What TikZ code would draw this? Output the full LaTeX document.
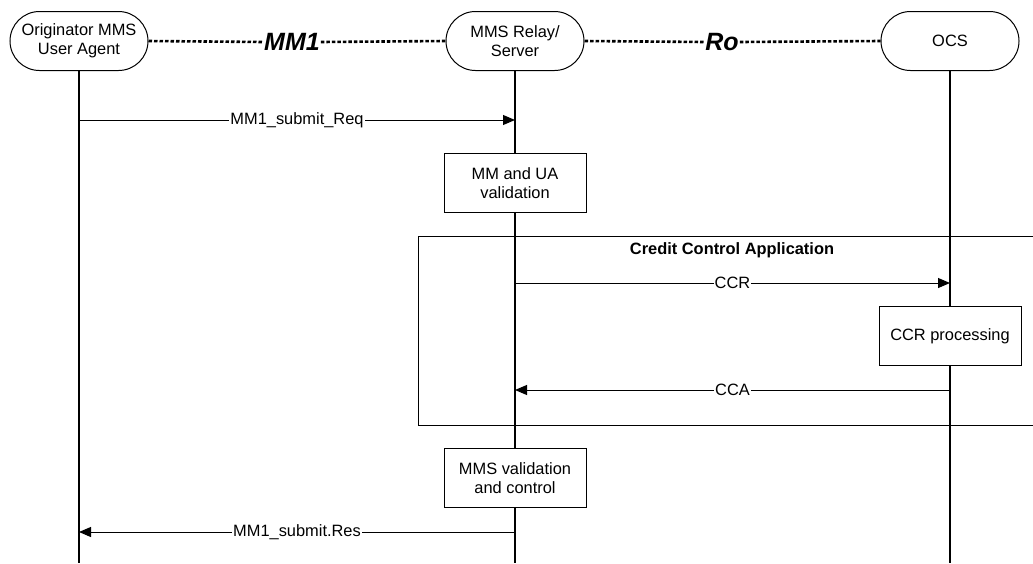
\documentclass[tikz,border=0pt]{standalone}
\usepackage{fontspec}
\setmainfont{Liberation Sans}
\usepackage{tikz}
\usetikzlibrary{shapes.misc, arrows.meta, positioning, calc}
\definecolor{ink}{HTML}{000000}

\tikzset{
    entity/.style={draw=ink, rounded rectangle, line width=1pt,
        minimum width=142pt, minimum height=59pt, inner sep=2pt,
        align=center, font=\fontsize{16.4}{19}\selectfont},
    procbox/.style={draw=ink, fill=white, line width=1pt,
        minimum width=142pt, minimum height=59pt, inner sep=2pt,
        align=center, font=\fontsize{16.4}{19}\selectfont},
    iface/.style={draw=ink, line width=2.6pt, dash pattern=on 3.5pt off 2pt},
    ifacelbl/.style={inner sep=1pt, font=\fontsize{25}{28}\selectfont\bfseries\itshape},
    lifeline/.style={draw=ink, line width=1.3pt},
    msg/.style={draw=ink, line width=1pt, -{Triangle[length=12pt,width=10pt]}},
    lbl/.style={fill=white, inner sep=1pt, font=\fontsize{16.4}{19}\selectfont},
}

\begin{document}
\begin{tikzpicture}[x=1pt, y=-1pt]
        \useasboundingbox (0,0) rectangle (1033,563);

        % entities
        \node[entity] (ua) at (79,41) {Originator MMS\\User Agent};
        \node[entity] (relay) at (515,41) {MMS Relay/\\Server};
        \node[entity] (ocs) at (950,41) {OCS};

        % interfaces
        \node[ifacelbl] (mm1) at (292,42) {MM1};
        \node[ifacelbl] (ro) at (722,42) {Ro};
        \draw[iface] (ua.east) -- (mm1.west);
        \draw[iface] (mm1.east) -- (relay.west);
        \draw[iface] (relay.east) -- (ro.west);
        \draw[iface] (ro.east) -- (ocs.west);

        % lifelines
        \coordinate (ua end) at (79,563);
        \coordinate (relay end) at (515,563);
        \coordinate (ocs end) at (950,563);
        \draw[lifeline] (ua.south) -- (ua end);
        \draw[lifeline] (relay.south) -- (relay end);
        \draw[lifeline] (ocs.south) -- (ocs end);

        % credit control frame
        \draw[draw=ink, line width=1pt] (418,236) rectangle (1040,425);
        \node[font=\fontsize{16.4}{19}\selectfont\bfseries] (ccatitle) at (732,250) {Credit Control Application};

        % processing boxes
        \node[procbox] (uaval) at (515,183) {MM and UA\\validation};
        \node[procbox] (ccrproc) at (950,336) {CCR processing};
        \node[procbox] (mmsval) at (515,478) {MMS validation\\and control};

        % messages
        \coordinate (req) at (0,120);
        \coordinate (ccr) at (0,283);
        \coordinate (cca) at (0,390);
        \coordinate (res) at (0,532);
        \draw[msg] (ua |- req) -- node[lbl] {MM1\_submit\_Req} (relay |- req);
        \draw[msg] (relay |- ccr) -- node[lbl] {CCR} (ocs |- ccr);
        \draw[msg] (ocs |- cca) -- node[lbl] {CCA} (relay |- cca);
        \draw[msg] (relay |- res) -- node[lbl] {MM1\_submit.Res} (ua |- res);
    \end{tikzpicture}
\end{document}
